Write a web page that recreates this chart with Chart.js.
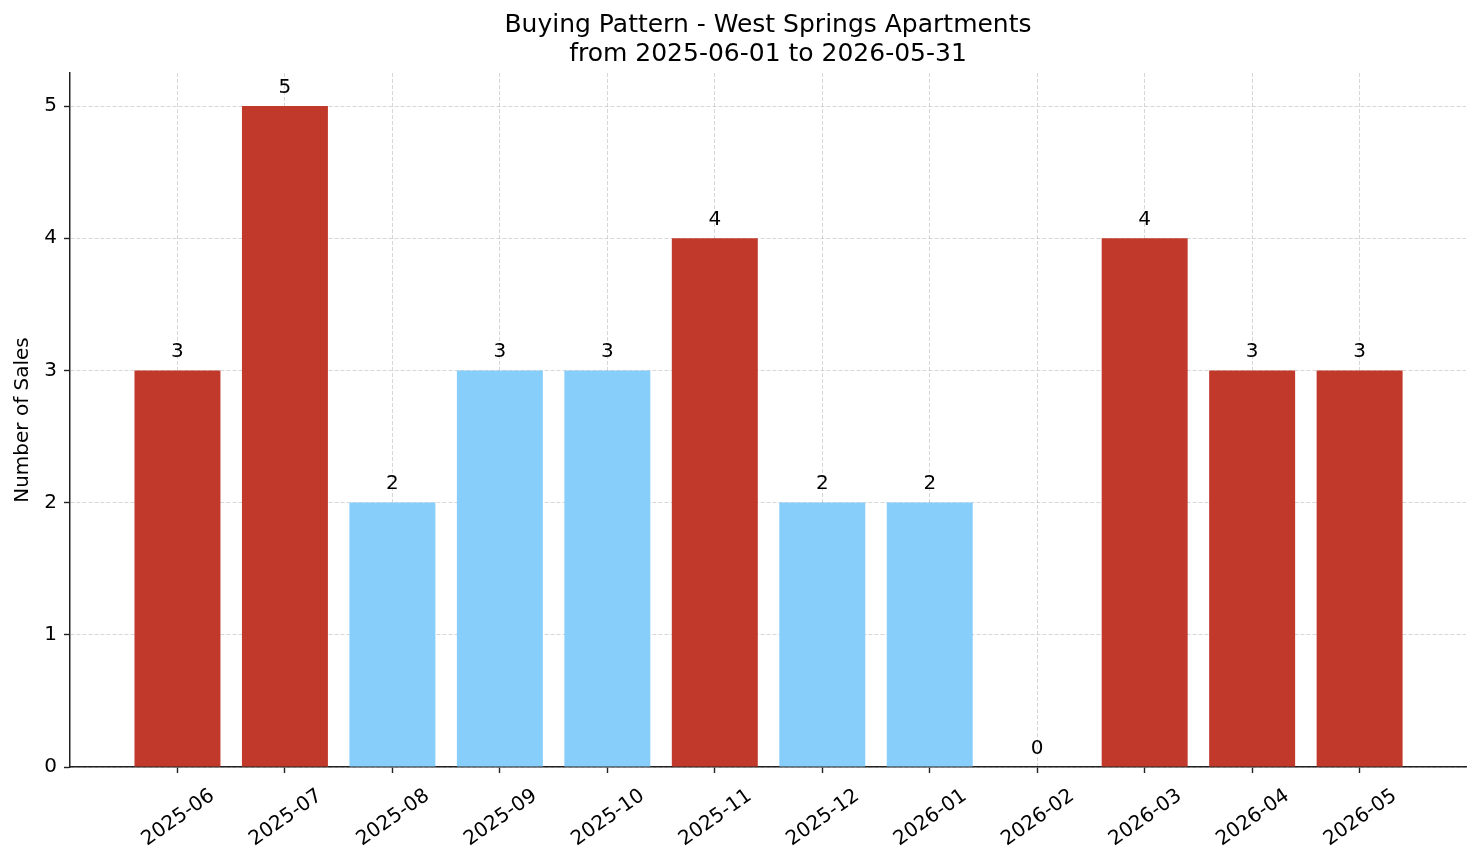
<!DOCTYPE html>
<html>
<head>
<meta charset="utf-8">
<title>Buying Pattern - West Springs Apartments</title>
<script src="https://cdn.jsdelivr.net/npm/chart.js@4/dist/chart.umd.min.js"></script>
<style>
    body { margin: 0; background: #ffffff; }
    #wrap { width: 1481px; height: 863px; position: relative; }
</style>
</head>
<body>
<div id="wrap"><canvas id="salesChart"></canvas></div>
<script>
// Data
const months = ["2025-06", "2025-07", "2025-08", "2025-09", "2025-10", "2025-11",
                "2025-12", "2026-01", "2026-02", "2026-03", "2026-04", "2026-05"];
const sales = [3, 5, 2, 3, 3, 4, 2, 2, 0, 4, 3, 3];
// months drawn in red, the rest in light blue
const redMonths = ["2025-06", "2025-07", "2025-11", "2026-03", "2026-04", "2026-05"];
const yTicks = [0, 1, 2, 3, 4, 5];
const titleLines = ["Buying Pattern - West Springs Apartments", "from 2025-06-01 to 2026-05-31"];

const RED = "#c0392b";
const BLUE = "#87cefa";
const FONT = "'DejaVu Sans', sans-serif";
const gridColor = "rgba(176, 176, 176, 0.5)";

// Value labels above each bar
const barLabels = {
    id: "barLabels",
    afterDatasetsDraw(chart) {
        const ctx = chart.ctx;
        const y = chart.scales.y;
        const meta = chart.getDatasetMeta(0);
        ctx.save();
        ctx.font = "20px " + FONT;
        ctx.fillStyle = "#000";
        ctx.textAlign = "center";
        ctx.textBaseline = "alphabetic";
        meta.data.forEach((bar, i) => {
            ctx.fillText(String(sales[i]), bar.x, y.getPixelForValue(sales[i] + 0.1));
        });
        ctx.restore();
    }
};

const gridOpts = {
    color: gridColor,
    lineWidth: 1,
    offset: false,
    drawTicks: true,
    tickLength: 6,
    tickColor: "#222",
    tickWidth: 1.4,
    tickBorderDash: []
};

new Chart(document.getElementById("salesChart"), {
    type: "bar",
    data: {
        datasets: [{
            data: months.map((m, i) => ({ x: i, y: sales[i] })),
            backgroundColor: months.map(m => redMonths.includes(m) ? RED : BLUE),
            borderWidth: 0,
            categoryPercentage: 1.0,
            barPercentage: 0.8
        }]
    },
    options: {
        responsive: true,
        maintainAspectRatio: false,
        animation: false,
        layout: { padding: { top: 0, right: 15, bottom: 0, left: 0 } },
        plugins: {
            legend: { display: false },
            tooltip: { enabled: false },
            title: {
                display: true,
                fullSize: false,
                text: titleLines,
                color: "#000",
                font: { family: FONT, size: 25, weight: "normal", lineHeight: 1.16 },
                padding: { top: 11, bottom: 4 }
            }
        },
        scales: {
            x: {
                type: "linear",
                min: -1.0,
                max: 11.99,
                offset: false,
                z: 1,
                afterBuildTicks: (s) => { s.ticks = months.map((m, i) => ({ value: i })); },
                afterFit: (s) => { s.height = 96; },
                border: { display: true, color: "#222", width: 1.5, dash: [4, 2] },
                grid: gridOpts,
                ticks: {
                    autoSkip: false,
                    minRotation: 35,
                    maxRotation: 35,
                    labelOffset: 35,
                    padding: 11,
                    color: "#000",
                    font: { family: FONT, size: 20 },
                    callback: (v) => months[Math.round(v)]
                }
            },
            y: {
                min: 0,
                max: 5.25,
                z: 1,
                afterBuildTicks: (s) => { s.ticks = yTicks.map(v => ({ value: v })); },
                afterFit: (s) => { s.width = 70; },
                border: { display: true, color: "#222", width: 1.5, dash: [4, 2] },
                grid: gridOpts,
                ticks: {
                    padding: 7,
                    color: "#000",
                    font: { family: FONT, size: 20 }
                },
                title: {
                    display: true,
                    text: "Number of Sales",
                    color: "#000",
                    font: { family: FONT, size: 20 },
                    padding: { top: 11, bottom: 0 }
                }
            }
        }
    },
    plugins: [barLabels]
});
</script>
</body>
</html>
